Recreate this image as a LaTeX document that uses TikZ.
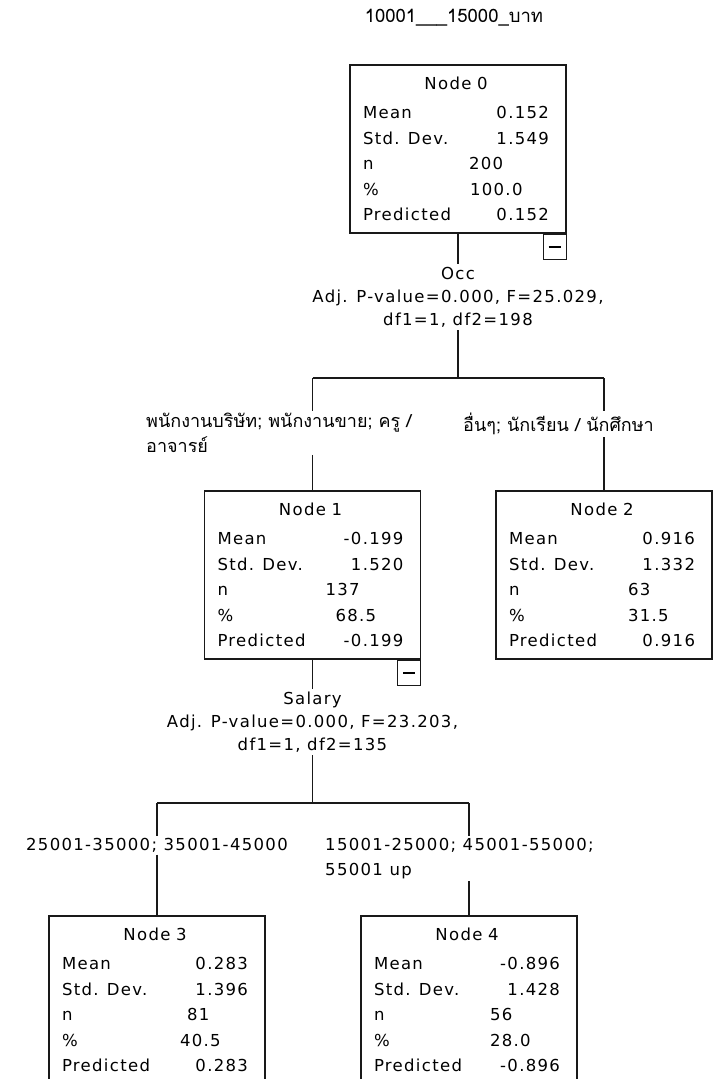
\documentclass[tikz,border=0pt]{standalone}
\usepackage{fontspec}
\newfontfamily\spssfont[LetterSpace=8]{DejaVu Sans}
\newfontfamily\thaifont[Script=Thai]{Loma}
\usetikzlibrary{positioning}
\newcommand{\fonte}{\spssfont\fontsize{16.5}{25.5}\selectfont}
\newcommand{\fontethai}{\thaifont\fontsize{18}{25}\selectfont}
\tikzset{
    caixa/.style={
        rectangle,
        draw=black!90,
        line width=1.4pt,
        minimum width=216pt,
        minimum height=168pt,
        text width=190pt,
        inner sep=0pt,
        align=left
    },
    menos/.style={
        rectangle,
        draw=black!90,
        line width=1.2pt,
        minimum width=23pt,
        minimum height=25pt,
        inner sep=0pt
    },
    divisao/.style={align=center, inner sep=3pt, font=\spssfont\fontsize{16.5}{23}\selectfont},
    rotulo/.style={align=left, inner sep=2pt, font=\spssfont\fontsize{16.5}{25}\selectfont},
    rotulothai/.style={align=left, inner sep=2pt, font=\fontethai},
    ligacao/.style={line width=1.4pt, draw=black!90}
}
% linhas da caixa de cada no
\newcommand{\titulo}[1]{\makebox[186pt][c]{#1}}
\newcommand{\linha}[2]{\makebox[82pt][l]{#1}\makebox[104pt][r]{#2}}
\newcommand{\coluna}[3]{\makebox[#2][l]{#1}#3}

\begin{document}
\begin{tikzpicture}[x=1pt, y=-1pt, font=\fonte]
    \useasboundingbox (0,0) rectangle (713,1079);
    \clip (0,0) rectangle (713,1079);

    \node[font=\thaifont\fontsize{18.5}{20}\selectfont] (tit) at (454,18)
        {10001\_\_\_15000\_บาท};

    % no raiz
    \node[caixa] (n0) at (458,149)
        {\titulo{Node 0}\\[3.5pt]
         \linha{Mean}{0.152}\\
         \linha{Std. Dev.}{1.549}\\
         \coluna{n}{106pt}{200}\\
         \coluna{\%}{107pt}{100.0}\\
         \linha{Predicted}{0.152}};
    \node[menos, anchor=north east] (m0) at (n0.south east) {\rule{12pt}{1.4pt}};

    \node[divisao] (s0) at (458,297)
        {Occ\\Adj. P-value=0.000, F=25.029,\\df1=1, df2=198};
    \coordinate (b0) at (458,378);

    \node[caixa] (n1) at (312.5,575)
        {\titulo{Node 1}\\[3.5pt]
         \linha{Mean}{-0.199}\\
         \linha{Std. Dev.}{1.520}\\
         \coluna{n}{108pt}{137}\\
         \coluna{\%}{118pt}{68.5}\\
         \linha{Predicted}{-0.199}};
    \node[menos, anchor=north east] (m1) at (n1.south east) {\rule{12pt}{1.4pt}};

    \node[caixa] (n2) at (604,575)
        {\titulo{Node 2}\\[3.5pt]
         \linha{Mean}{0.916}\\
         \linha{Std. Dev.}{1.332}\\
         \coluna{n}{119pt}{63}\\
         \coluna{\%}{119pt}{31.5}\\
         \linha{Predicted}{0.916}};

    \node[rotulothai, anchor=north west] (l1) at (144,411)
        {พนักงานบริษัท; พนักงานขาย; ครู /\\อาจารย์};
    \node[rotulothai, anchor=north west] (l2) at (461,411)
        {อื่นๆ; นักเรียน / นักศึกษา};

    \node[divisao] (s1) at (312.5,722)
        {Salary\\Adj. P-value=0.000, F=23.203,\\df1=1, df2=135};
    \coordinate (b1) at (312.5,803);

    \node[caixa] (n3) at (157,1000)
        {\titulo{Node 3}\\[3.5pt]
         \linha{Mean}{0.283}\\
         \linha{Std. Dev.}{1.396}\\
         \coluna{n}{125pt}{81}\\
         \coluna{\%}{118pt}{40.5}\\
         \linha{Predicted}{0.283}};
    \node[caixa] (n4) at (469,1000)
        {\titulo{Node 4}\\[3.5pt]
         \linha{Mean}{-0.896}\\
         \linha{Std. Dev.}{1.428}\\
         \coluna{n}{116pt}{56}\\
         \coluna{\%}{116pt}{28.0}\\
         \linha{Predicted}{-0.896}};

    \node[rotulo, anchor=north] (l3) at (157,836)
        {25001-35000; 35001-45000};
    \node[rotulo, anchor=north west] (l4) at (323,836)
        {15001-25000; 45001-55000;\\55001 up};

    % ligacoes
    \draw[ligacao] (n0) -- (s0);
    \draw[ligacao] (s0) -- (b0);
    \draw[ligacao] (b0 -| n1) -- (b0 -| n2);
    \draw[ligacao] (b0 -| n1) -- (l1.north -| n1);
    \draw[ligacao] (l1.south -| n1) -- (n1);
    \draw[ligacao] (b0 -| n2) -- (l2.north -| n2);
    \draw[ligacao] (l2.south -| n2) -- (n2);

    \draw[ligacao] (n1) -- (s1);
    \draw[ligacao] (s1) -- (b1);
    \draw[ligacao] (b1 -| n3) -- (b1 -| n4);
    \draw[ligacao] (b1 -| n3) -- (l3);
    \draw[ligacao] (l3) -- (n3);
    \draw[ligacao] (b1 -| n4) -- (l4.north -| n4);
    \draw[ligacao] (l4.south -| n4) -- (n4);
\end{tikzpicture}
\end{document}
